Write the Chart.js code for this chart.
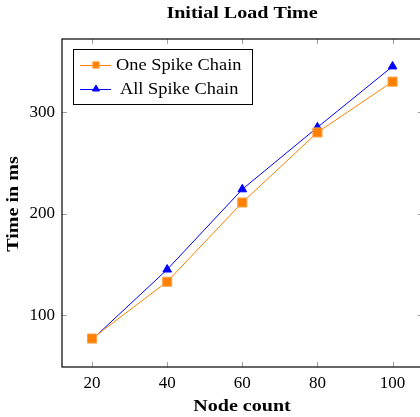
<!DOCTYPE html>
<html>
<head>
<meta charset="utf-8">
<script src="https://cdn.jsdelivr.net/npm/chart.js@4/dist/chart.umd.min.js"></script>
<style>
  html, body { margin: 0; padding: 0; background: #fff; overflow: hidden; }
  #wrap { width: 430px; height: 417px; }
</style>
</head>
<body>
<div id="wrap"><canvas id="loadChart" width="430" height="417"></canvas></div>
<script>
// node counts on the x axis
const nodeCounts = [20, 40, 60, 80, 100];
// times in ms
const oneSpikeTimes = [77, 133, 211, 280, 330];
const allSpikeTimes = [76, 145, 224, 285, 345];
const xTicks = [20, 40, 60, 80, 100];
const yTicks = [100, 200, 300];

const ORANGE = '#ff8000';
const BLUE = '#0000ff';
const SERIF = '"Liberation Serif", "DejaVu Serif", serif';

const toPoints = (ys) => nodeCounts.map((x, i) => ({ x: x, y: ys[i] }));

// draws text squeezed/stretched horizontally, CM bold is wider than Times
function wideText(ctx, txt, x, y, font, sx, align) {
    ctx.save();
    ctx.font = font;
    ctx.textBaseline = 'middle';
    ctx.textAlign = align || 'center';
    ctx.translate(x, y);
    ctx.scale(sx, 1);
    ctx.fillText(txt, 0, 0);
    ctx.restore();
}

/* ---------- frame, inner ticks, titles, legend ---------- */
const pgfLook = {
    id: 'pgfLook',
    afterDraw(chart) {
        const ctx = chart.ctx;
        const a = chart.chartArea;
        const xs = chart.scales.x;
        const ys = chart.scales.y;

        // inward tick marks on all four sides
        ctx.save();
        ctx.strokeStyle = '#a0a0a0';
        ctx.lineWidth = 1;
        ctx.beginPath();
        xTicks.forEach(v => {
            const px = Math.round(xs.getPixelForValue(v)) + 0.5;
            ctx.moveTo(px, a.bottom); ctx.lineTo(px, a.bottom - 5);
            ctx.moveTo(px, a.top); ctx.lineTo(px, a.top + 5);
        });
        yTicks.forEach(v => {
            const py = Math.round(ys.getPixelForValue(v)) + 0.5;
            ctx.moveTo(a.left, py); ctx.lineTo(a.left + 5, py);
            ctx.moveTo(a.right, py); ctx.lineTo(a.right - 5, py);
        });
        ctx.stroke();

        // box
        ctx.strokeStyle = '#000';
        ctx.lineWidth = 1.2;
        ctx.strokeRect(a.left, a.top, a.right - a.left, a.bottom - a.top);
        ctx.restore();

        // titles
        ctx.save();
        ctx.fillStyle = '#000';
        wideText(ctx, 'Initial Load Time', 242, 14, 'bold 17px ' + SERIF, 1.18);
        wideText(ctx, 'Node count', 242, 407, 'bold 17px ' + SERIF, 1.18);
        ctx.translate(14, 204);
        ctx.rotate(-Math.PI / 2);
        wideText(ctx, 'Time in ms', 0, 0, 'bold 17px ' + SERIF, 1.18);
        ctx.restore();

        // legend
        const lx = 73, ly = 49, lw = 179, lh = 55;
        ctx.save();
        ctx.fillStyle = '#fff';
        ctx.fillRect(lx, ly, lw, lh);
        ctx.strokeStyle = '#000';
        ctx.lineWidth = 1;
        ctx.strokeRect(lx + 0.5, ly + 0.5, lw, lh);
        chart.data.datasets.forEach((ds, i) => {
            const cy = 65 + i * 24;
            ctx.strokeStyle = ds.borderColor;
            ctx.lineWidth = 1;
            ctx.beginPath();
            ctx.moveTo(80, cy + 0.5); ctx.lineTo(111, cy + 0.5);
            ctx.stroke();
            ctx.fillStyle = ds.pointBackgroundColor;
            ctx.strokeStyle = ds.pointBorderColor;
            Chart.helpers.drawPoint(ctx, {
                pointStyle: ds.pointStyle,
                rotation: 0,
                borderWidth: 1,
                radius: ds.pointStyle === 'triangle' ? 4 : 4.5
            }, 96, cy);
            ctx.fillStyle = '#000';
            wideText(ctx, ds.label, 116 + (i ? 4 : 0), cy + 1, '17px ' + SERIF, 1.08, 'left');
        });
        ctx.restore();
    }
};

new Chart(document.getElementById('loadChart'), {
    type: 'line',
    data: {
        datasets: [
            {
                label: 'One Spike Chain',
                data: toPoints(oneSpikeTimes),
                borderColor: ORANGE,
                backgroundColor: ORANGE,
                pointBackgroundColor: ORANGE,
                pointBorderColor: '#ffa040',
                pointStyle: 'rect',
                pointRadius: 6.4,
                pointBorderWidth: 1,
                borderWidth: 1,
                tension: 0
            },
            {
                label: 'All Spike Chain',
                data: toPoints(allSpikeTimes),
                borderColor: BLUE,
                backgroundColor: BLUE,
                pointBackgroundColor: BLUE,
                pointBorderColor: BLUE,
                pointStyle: 'triangle',
                pointRadius: 5,
                pointBorderWidth: 1,
                borderWidth: 1,
                tension: 0
            }
        ]
    },
    options: {
        responsive: false,
        animation: false,
        events: [],
        layout: { padding: { top: 39, right: 6, bottom: 0, left: 0 } },
        plugins: {
            legend: { display: false },
            title: { display: false },
            tooltip: { enabled: false }
        },
        scales: {
            x: {
                type: 'linear',
                min: 12,
                max: 108,
                afterFit: (s) => { s.height = 50; },
                afterBuildTicks: (s) => { s.ticks = xTicks.map(v => ({ value: v })); },
                grid: { display: false, drawTicks: false },
                border: { display: false },
                ticks: { color: '#000', padding: 6, font: { family: SERIF, size: 17 } }
            },
            y: {
                min: 49,
                max: 372,
                afterFit: (s) => { s.width = 62; },
                afterBuildTicks: (s) => { s.ticks = yTicks.map(v => ({ value: v })); },
                grid: { display: false, drawTicks: false },
                border: { display: false },
                ticks: { color: '#000', padding: 7, font: { family: SERIF, size: 17 } }
            }
        }
    },
    plugins: [pgfLook]
});
</script>
</body>
</html>
